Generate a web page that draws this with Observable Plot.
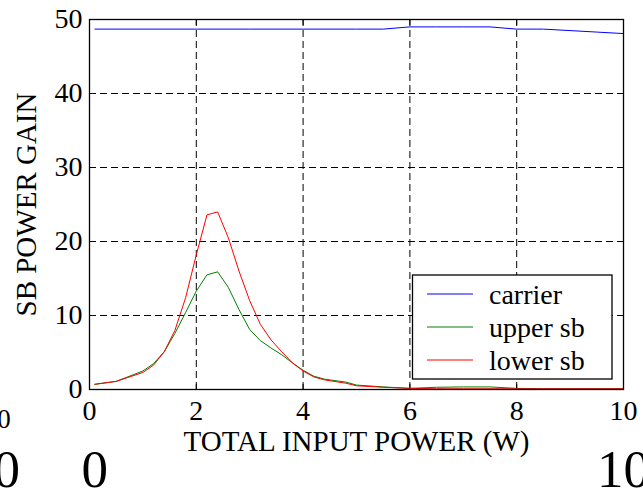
<!DOCTYPE html>
<html>
<head>
<meta charset="utf-8">
<script src="https://cdn.jsdelivr.net/npm/d3@7"></script>
<script src="https://cdn.jsdelivr.net/npm/@observablehq/plot@0.6"></script>
<style>
  html, body { margin: 0; padding: 0; background: #fff; }
  #chart { width: 643px; height: 494px; overflow: hidden; }
</style>
</head>
<body>
<div id="chart"></div>
<script>
// ---- data ----
const seriesNames = ["carrier", "upper sb", "lower sb"];
const seriesColors = ["#0000ff", "#008000", "#ff0000"];

const carrierX = [0.1, 1, 2, 3, 4, 5, 5.5, 6.0, 6.5, 7.0, 7.5, 8.0, 8.5, 9.0, 9.5, 10.0];
const carrierY = [48.7, 48.7, 48.7, 48.7, 48.7, 48.7, 48.7, 49.0, 49.0, 49.0, 49.0, 48.7, 48.7, 48.5, 48.3, 48.1];

const sbX = [0.1, 0.5, 1.0, 1.2, 1.4, 1.6, 1.8, 2.0, 2.2, 2.4, 2.6, 2.8, 3.0, 3.2, 3.4, 3.6, 3.8, 4.0, 4.2, 4.4, 4.8, 5.0, 5.5, 6.0, 6.5, 7.0, 7.5, 8.0, 8.5, 9.0, 9.5, 10.0];
const upperY = [0.7, 1.1, 2.5, 3.5, 5.1, 7.6, 10.4, 13.3, 15.5, 15.9, 13.8, 10.8, 8.1, 6.6, 5.6, 4.7, 3.6, 2.6, 1.8, 1.4, 1.0, 0.6, 0.35, 0.15, 0.3, 0.35, 0.35, 0.15, 0.1, 0.1, 0.1, 0.1];
const lowerY = [0.7, 1.1, 2.3, 3.3, 5.1, 8.0, 12.4, 18.2, 23.6, 24.0, 20.5, 16.0, 12.0, 8.8, 6.7, 5.1, 3.6, 2.5, 1.7, 1.3, 0.85, 0.5, 0.3, 0.15, 0.1, 0.1, 0.1, 0.1, 0.1, 0.1, 0.1, 0.1];

const xTicks = [0, 2, 4, 6, 8, 10];
const yTicks = [0, 10, 20, 30, 40, 50];
const xGrid = [2, 4, 6, 8];
const yGrid = [10, 20, 30, 40];

const xLabel = "TOTAL INPUT POWER (W)";
const yLabel = "SB POWER GAIN";

// stray labels visible in the reference (from an adjacent figure)
const strayBig = [{x: -1.55, t: "0"}, {x: 0.1, t: "0"}, {x: 10, t: "10"}];
const straySmall = [{x: -1.6, t: "0"}];

// ---- build tables ----
const carrier = carrierX.map((x, i) => ({x, y: carrierY[i]}));
const upper = sbX.map((x, i) => ({x, y: upperY[i]}));
const lower = sbX.map((x, i) => ({x, y: lowerY[i]}));

const font = "Liberation Serif";

const plot = Plot.plot({
  width: 643,
  height: 494,
  marginLeft: 89,
  marginRight: 20,
  marginTop: 19,
  marginBottom: 105,
  style: {background: "#fff", color: "#000", overflow: "visible"},
  x: {domain: [0, 10]},
  y: {domain: [0, 50]},
  marks: [
    Plot.ruleX(xGrid, {stroke: "#000", strokeWidth: 1, strokeDasharray: "7,4"}),
    Plot.ruleY(yGrid, {stroke: "#000", strokeWidth: 1, strokeDasharray: "7,4"}),
    Plot.axisX({anchor: "bottom", ticks: xTicks, tickSize: 0, tickPadding: 11, fontSize: 28, fontFamily: font, label: null}),
    Plot.axisX({anchor: "bottom", ticks: xTicks, tickSize: -5, text: null, label: null}),
    Plot.axisX({anchor: "top", ticks: xTicks, tickSize: -5, text: null, label: null}),
    Plot.axisY({anchor: "left", ticks: yTicks, tickSize: 0, tickPadding: 7, fontSize: 28, fontFamily: font, label: null}),
    Plot.axisY({anchor: "left", ticks: yTicks, tickSize: -5, text: null, label: null}),
    Plot.axisY({anchor: "right", ticks: yTicks, tickSize: -5, text: null, label: null}),
    Plot.line(carrier, {x: "x", y: "y", stroke: seriesColors[0], strokeWidth: 1}),
    Plot.line(upper, {x: "x", y: "y", stroke: seriesColors[1], strokeWidth: 1}),
    Plot.line(lower, {x: "x", y: "y", stroke: seriesColors[2], strokeWidth: 1}),
    Plot.frame({stroke: "#000", strokeWidth: 1.3}),
    Plot.text([xLabel], {text: d => d, frameAnchor: "bottom", lineAnchor: "middle", dy: 52, fontSize: 29, fontFamily: font, fill: "#000"}),
    Plot.text([yLabel], {text: d => d, frameAnchor: "left", rotate: -90, lineAnchor: "middle", textAnchor: "middle", dx: -63, fontSize: 29, fontFamily: font, fill: "#000"}),
    Plot.text(strayBig, {x: "x", text: "t", frameAnchor: "bottom", lineAnchor: "middle", dy: 81, fontSize: 53, fontFamily: font, fill: "#000"}),
    Plot.text(straySmall, {x: "x", text: "t", frameAnchor: "bottom", lineAnchor: "middle", dy: 30, fontSize: 27, fontFamily: font, fill: "#000"})
  ]
});

// ---- legend (inside the plot, lower right) ----
const svg = d3.select(plot);
svg.attr("font-family", font);
const lg = svg.append("g").attr("font-family", font).attr("text-anchor", "start");
lg.append("rect")
  .attr("x", 412.5).attr("y", 275).attr("width", 199.5).attr("height", 104)
  .attr("fill", "#fff").attr("stroke", "#000").attr("stroke-width", 1.3);
seriesNames.forEach((name, i) => {
  const yy = 294 + i * 33;
  lg.append("line").attr("x1", 427).attr("x2", 473).attr("y1", yy).attr("y2", yy)
    .attr("stroke", seriesColors[i]).attr("stroke-width", 1);
  lg.append("text").attr("x", 489).attr("y", yy + 10).attr("font-size", 28)
    .attr("text-anchor", "start").attr("font-family", font).attr("fill", "#000").text(name);
});
svg.selectAll("text").attr("font-family", font).style("font-family", font);

document.getElementById("chart").appendChild(plot);
</script>
</body>
</html>
